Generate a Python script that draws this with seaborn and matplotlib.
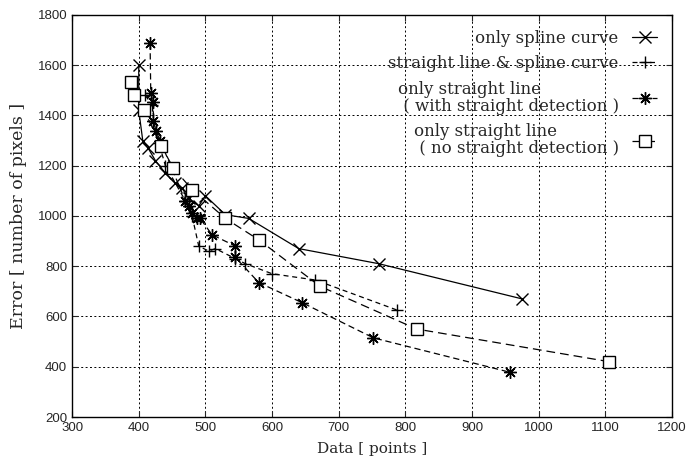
import matplotlib
matplotlib.use("Agg")
import matplotlib.pyplot as plt
import seaborn as sns
import pandas as pd

# values
spline_x = [400, 400, 406, 414, 425, 440, 455, 465, 475, 490, 500, 530, 565, 640, 760, 975]
spline_y = [1600, 1420, 1300, 1270, 1220, 1170, 1130, 1110, 1070, 1040, 1080, 1005, 990, 870, 810, 670]

both_x = [410, 420, 430, 440, 470, 480, 490, 505, 515, 545, 560, 600, 665, 787]
both_y = [1480, 1440, 1290, 1200, 1060, 1000, 880, 860, 870, 830, 810, 770, 745, 626]

det_x = [417, 418, 421, 422, 426, 432, 470, 475, 480, 487, 492, 510, 545, 545, 580, 645, 752, 957]
det_y = [1687, 1491, 1455, 1377, 1337, 1300, 1060, 1040, 1010, 990, 990, 925, 880, 835, 735, 655, 515, 378]

nodet_x = [388, 393, 408, 434, 452, 480, 530, 580, 672, 817, 1106]
nodet_y = [1531, 1480, 1420, 1277, 1190, 1105, 990, 905, 720, 550, 420]

labels = ["only spline curve",
          "straight line & spline curve",
          "only straight line\n ( with straight detection )",
          "only straight line\n ( no straight detection )"]

sns.set_style("ticks")
plt.rcParams['font.family'] = ['Liberation Sans', 'DejaVu Sans']

fig = plt.figure(figsize=(7, 4.57), dpi=100)
ax = fig.add_axes([0.103, 0.0875, 0.857, 0.88])

series = [
    (spline_x, spline_y, labels[0], "x", "-"),
    (both_x, both_y, labels[1], "+", (0, (4, 3))),
    (det_x, det_y, labels[2], (8, 2, 0), (0, (5, 3))),
    (nodet_x, nodet_y, labels[3], "s", (0, (7, 4))),
]
for xs, ys, lab, mk, ls in series:
    df = pd.DataFrame({"x": xs, "y": ys})
    sns.lineplot(data=df, x="x", y="y", ax=ax, estimator=None, sort=False,
                 color="black", linewidth=0.9, linestyle=ls, marker=mk,
                 markersize=9, markeredgewidth=1.0,
                 markerfacecolor="white" if mk == "s" else "black",
                 markeredgecolor="black", label=lab)

ax.set_xlim(300, 1200)
ax.set_ylim(200, 1800)
ax.set_xticks(range(300, 1201, 100))
ax.set_yticks(range(200, 1801, 200))
ax.grid(True, color="black", linestyle=(0, (2, 2.5)), linewidth=0.7)
ax.tick_params(direction="in", top=True, right=True, labelsize=9.5, length=4)
for s in ax.spines.values():
    s.set_linewidth(1.0)
    s.set_color("black")

ax.set_xlabel("Data [ points ]", family="DejaVu Serif", fontsize=11, labelpad=6)
ax.set_ylabel("Error [ number of pixels ]", family="DejaVu Serif", fontsize=12.5, labelpad=8)

leg = ax.legend(loc="upper right", markerfirst=False, frameon=False,
                prop={"family": "DejaVu Serif", "size": 12},
                handlelength=1.5, handletextpad=0.8, labelspacing=0.5,
                borderaxespad=0.5)
for t in leg.get_texts():
    t.set_linespacing(1.0)

fig.savefig("out.png", dpi=100)
